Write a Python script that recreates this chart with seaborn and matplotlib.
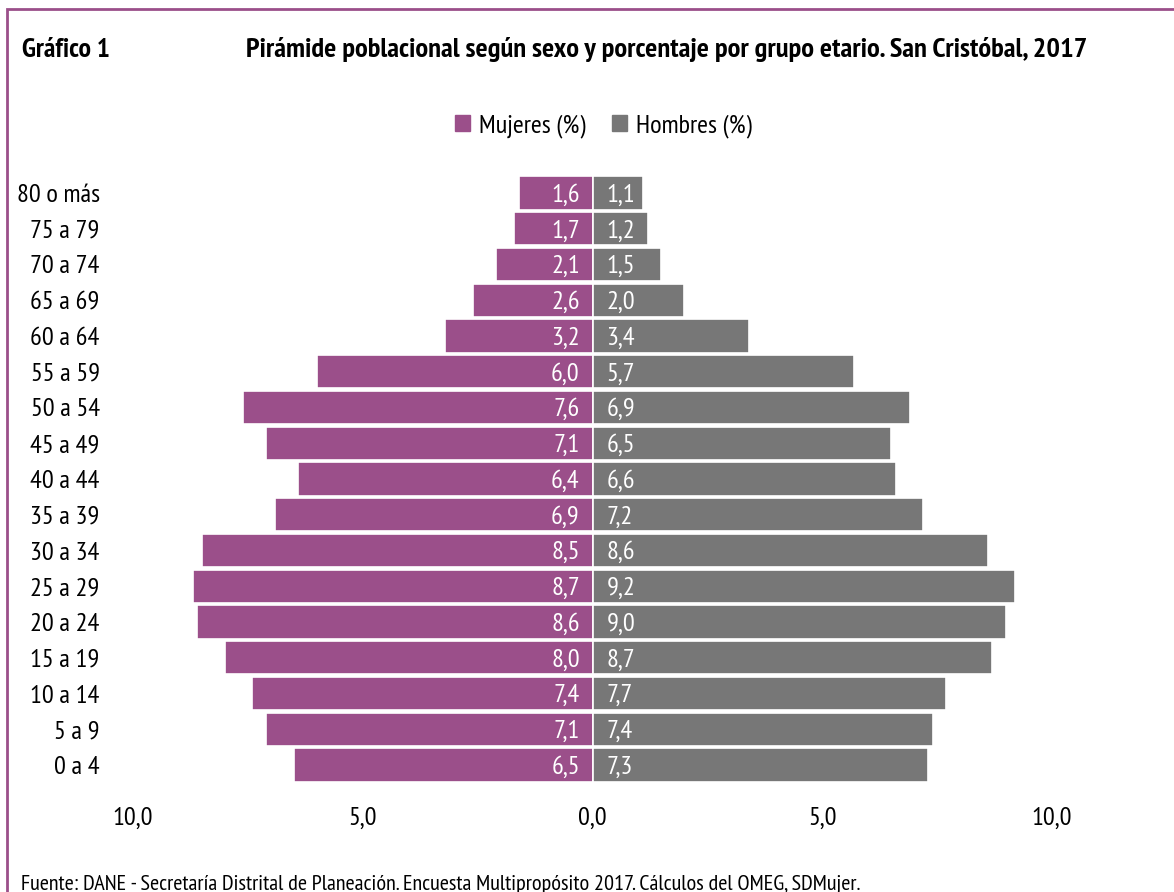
import matplotlib
matplotlib.use("Agg")
import matplotlib.pyplot as plt
import seaborn as sns
import pandas as pd
from matplotlib.patches import Rectangle, Patch

# datos (de arriba hacia abajo)
grupos = ["80 o más", "75 a 79", "70 a 74", "65 a 69", "60 a 64", "55 a 59",
          "50 a 54", "45 a 49", "40 a 44", "35 a 39", "30 a 34", "25 a 29",
          "20 a 24", "15 a 19", "10 a 14", "5 a 9", "0 a 4"]
mujeres = [1.6, 1.7, 2.1, 2.6, 3.2, 6.0, 7.6, 7.1, 6.4, 6.9, 8.5, 8.7, 8.6, 8.0, 7.4, 7.1, 6.5]
hombres = [1.1, 1.2, 1.5, 2.0, 3.4, 5.7, 6.9, 6.5, 6.6, 7.2, 8.6, 9.2, 9.0, 8.7, 7.7, 7.4, 7.3]
ticks = [-10, -5, 0, 5, 10]
tick_labels = ["10,0", "5,0", "0,0", "5,0", "10,0"]

morado = "#9B4F8A"
gris = "#777777"

sns.set_style("white")
plt.rcParams['font.family'] = ['PT Sans Narrow', 'DejaVu Sans']
plt.rcParams['text.color'] = "black"

df = pd.DataFrame({"grupo": grupos, "mujeres": [-v for v in mujeres], "hombres": hombres})

fig = plt.figure(figsize=(11.74, 8.92), dpi=100)
ax = fig.add_axes([0.1133, 0.1222, 0.7828, 0.6816])

sns.barplot(data=df, x="mujeres", y="grupo", order=grupos, color=morado, orient="h",
            width=0.93, edgecolor="white", linewidth=1.2, saturation=1, ax=ax)
sns.barplot(data=df, x="hombres", y="grupo", order=grupos, color=gris, orient="h",
            width=0.93, edgecolor="white", linewidth=1.2, saturation=1, ax=ax)

# etiquetas de valor dentro de las barras
for i, (m, h) in enumerate(zip(mujeres, hombres)):
    ax.text(-0.28, i + 0.06, f"{m:.1f}".replace(".", ","), color="white",
            ha="right", va="center", fontsize=19)
    ax.text(0.3, i + 0.06, f"{h:.1f}".replace(".", ","), color="white",
            ha="left", va="center", fontsize=19)

ax.set_xlim(-10, 10)
ax.set_ylim(16.5, -0.5)
ax.set_xticks(ticks)
ax.set_xticklabels(tick_labels, fontsize=19, color="black")
ax.tick_params(axis="y", labelsize=19, labelcolor="black", length=0, pad=24)
ax.tick_params(axis="x", length=0, pad=17)
ax.set_xlabel("")
ax.set_ylabel("")
sns.despine(ax=ax, left=True, bottom=True)

handles = [Patch(color=morado, label="Mujeres (%)"), Patch(color=gris, label="Hombres (%)")]
fig.legend(handles=handles, loc="center", bbox_to_anchor=(0.514, 0.859), ncol=2,
           frameon=False, fontsize=19, handlelength=0.55, handleheight=0.55,
           handletextpad=0.35, columnspacing=1.0)

fig.text(0.019, 0.944, "Gráfico 1", fontsize=20, fontweight="bold", va="center")
fig.text(0.568, 0.944, "Pirámide poblacional según sexo y porcentaje por grupo etario. San Cristóbal, 2017",
         fontsize=20.5, fontweight="bold", va="center", ha="center")
fig.text(0.018, 0.009, "Fuente: DANE - Secretaría Distrital de Planeación. Encuesta Multipropósito 2017. Cálculos del OMEG, SDMujer.",
         fontsize=16, va="center")

# marco morado
fig.patches.append(Rectangle((0.006, -0.1), 1.1, 1.09, transform=fig.transFigure,
                             fill=False, edgecolor=morado, linewidth=2))

fig.savefig("out.png", dpi=100)
